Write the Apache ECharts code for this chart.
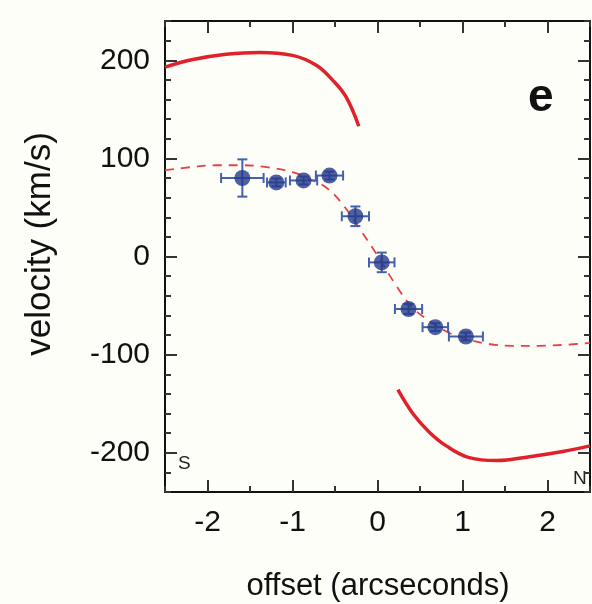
<!DOCTYPE html>
<html><head><meta charset="utf-8">
<script src="https://cdn.jsdelivr.net/npm/echarts@6/dist/echarts.min.js"></script>
<style>html,body{margin:0;padding:0;background:#fefef8;}#c{width:592px;height:604px;}</style>
</head><body><div id="c"></div>
<script>
// Observed data points
const ptX = [-1.59, -1.19, -0.87, -0.565, -0.26, 0.05, 0.365, 0.68, 1.04];
const ptY = [80, 75.5, 77.5, 82.5, 41, -6, -53.5, -72, -81.5];
const ptXErr = [0.25, 0.11, 0.16, 0.16, 0.16, 0.15, 0.16, 0.15, 0.2];
const ptYErr = [19, 4, 4, 4, 10, 10, 5, 4, 4];
// Dashed model curve
const dashX = [-2.5,-2.2,-1.9,-1.6,-1.3,-1.0,-0.8,-0.6,-0.4,-0.2,0,0.2,0.4,0.6,0.8,1.0,1.3,1.6,1.9,2.2,2.5];
const dashY = [88,91,93,93,91,86,79,70,52,27,1,-27,-51,-65,-76,-83,-89,-91,-91,-90,-88];
// Solid model curves
const topX = [-2.5,-2.17,-1.78,-1.39,-1.0,-0.72,-0.53,-0.37,-0.22];
const topY = [193,200.7,206,208,205,195,180,162.6,132.7];
const botX = [0.24,0.42,0.61,0.81,1.08,1.40,1.79,2.18,2.5];
const botY = [-135.7,-160.5,-179,-193,-205,-208,-204,-198.7,-193];
// Axis ranges and tick labels
const xRange = [-2.5, 2.5], xMinorStep = 0.5;
const yRange = [-240, 240], yMinorStep = 20;
const xMajor = [-2, -1, 0, 1, 2];
const yMajor = [-200, -100, 0, 100, 200];

const FONT = 'Liberation Sans, Arial, Helvetica, sans-serif';
const zip = (a, b) => a.map((v, i) => [v, b[i]]);

// main plot box (pixels)
const W = 592, H = 604;
const G = { left: 165, right: 2, top: 21, bottom: 112 };
const pxL = G.left, pxR = W - G.right, pxT = G.top, pxB = H - G.bottom;
const xScale = (pxR - pxL) / (xRange[1] - xRange[0]);
const yScale = (pxB - pxT) / (yRange[1] - yRange[0]);
const xPix = v => pxL + (v - xRange[0]) * xScale;
const yPix = v => pxT + (yRange[1] - v) * yScale;
const xMaj0 = xMajor[0], xMaj1 = xMajor[xMajor.length - 1];
const yMaj0 = yMajor[0], yMaj1 = yMajor[yMajor.length - 1];

const tickStyle = { color: '#333', width: 2 };
const hidden = { show: false };
const noAx = (g, t) => ({ type: 'value', gridIndex: g, show: false, min: t[0], max: t[1] });

function minorX(pos) {
  return { type: 'value', gridIndex: 0, min: xRange[0], max: xRange[1], interval: xMinorStep, position: pos,
    axisLine: { show: true, onZero: false, lineStyle: { color: '#111', width: 2 } },
    axisTick: { show: true, inside: true, length: 6, lineStyle: tickStyle },
    axisLabel: hidden, splitLine: hidden };
}
function minorY(pos) {
  return { type: 'value', gridIndex: 0, min: yRange[0], max: yRange[1], interval: yMinorStep, position: pos,
    axisLine: { show: true, onZero: false, lineStyle: { color: '#111', width: 2 } },
    axisTick: { show: true, inside: true, length: 6, lineStyle: tickStyle },
    axisLabel: hidden, splitLine: hidden };
}
function majorX(pos, labels) {
  return { type: 'value', gridIndex: 1, min: xMaj0, max: xMaj1, interval: 1, position: pos,
    axisLine: { show: false, onZero: false },
    axisTick: { show: true, inside: true, length: 12, lineStyle: tickStyle },
    axisLabel: labels ? { show: true, margin: 16, fontSize: 30, color: '#111', fontFamily: FONT } : hidden,
    splitLine: hidden };
}
function majorY(pos, labels) {
  return { type: 'value', gridIndex: 2, min: yMaj0, max: yMaj1, interval: 100, position: pos,
    axisLine: { show: false, onZero: false },
    axisTick: { show: true, inside: true, length: 12, lineStyle: tickStyle },
    axisLabel: labels ? { show: true, margin: 15, fontSize: 30, color: '#111', fontFamily: FONT } : hidden,
    splitLine: hidden };
}

const chart = echarts.init(document.getElementById('c'), null, { renderer: 'canvas' });
chart.setOption({
  backgroundColor: '#fefef8',
  animation: false,
  grid: [
    G,
    { left: xPix(xMaj0), right: W - xPix(xMaj1), top: G.top, bottom: G.bottom },
    { left: G.left, right: G.right, top: yPix(yMaj1), bottom: H - yPix(yMaj0) }
  ],
  xAxis: [minorX('bottom'), minorX('top'), majorX('bottom', true), majorX('top', false), noAx(2, xRange)],
  yAxis: [minorY('left'), minorY('right'), noAx(1, yRange), majorY('left', true), majorY('right', false)],
  graphic: [
    { type: 'text', x: 378, y: 586, style: { text: 'offset (arcseconds)', fontSize: 31, fill: '#111', fontFamily: FONT, align: 'center', verticalAlign: 'middle' } },
    { type: 'text', x: 40, y: 244, rotation: Math.PI / 2, style: { text: 'velocity (km/s)', fontSize: 35, fill: '#111', fontFamily: FONT, align: 'center', verticalAlign: 'middle' } },
    { type: 'text', left: 528, top: 75, style: { text: 'e', fontSize: 46, fontWeight: 'bold', fill: '#111', fontFamily: FONT } },
    { type: 'text', left: 178, top: 454, style: { text: 'S', fontSize: 19, fill: '#222', fontFamily: FONT } },
    { type: 'text', left: 573, top: 469, style: { text: 'N', fontSize: 19, fill: '#222', fontFamily: FONT } }
  ],
  series: [
    { type: 'line', xAxisIndex: 0, yAxisIndex: 0, data: zip(topX, topY), smooth: 0.4, showSymbol: false, clip: true,
      lineStyle: { color: '#e0212b', width: 3.5 }, z: 2 },
    { type: 'line', xAxisIndex: 0, yAxisIndex: 0, data: zip(botX, botY), smooth: 0.4, showSymbol: false, clip: true,
      lineStyle: { color: '#e0212b', width: 3.5 }, z: 2 },
    { type: 'line', xAxisIndex: 0, yAxisIndex: 0, data: zip(dashX, dashY), smooth: 0.4, showSymbol: false, clip: true,
      lineStyle: { color: '#e8404a', width: 1.8, type: [9, 7] }, z: 2 },
    { type: 'custom', xAxisIndex: 0, yAxisIndex: 0, z: 3,
      data: ptX.map((x, i) => [x, ptY[i], ptXErr[i], ptYErr[i]]),
      renderItem: function (params, api) {
        const x = api.value(0), y = api.value(1), ex = api.value(2), ey = api.value(3);
        const l = api.coord([x - ex, y]), r = api.coord([x + ex, y]);
        const t = api.coord([x, y + ey]), b = api.coord([x, y - ey]);
        const st = { stroke: '#4560ad', lineWidth: 2 };
        const c = 5;
        return { type: 'group', children: [
          { type: 'line', shape: { x1: l[0], y1: l[1], x2: r[0], y2: r[1] }, style: st },
          { type: 'line', shape: { x1: l[0], y1: l[1] - c, x2: l[0], y2: l[1] + c }, style: st },
          { type: 'line', shape: { x1: r[0], y1: r[1] - c, x2: r[0], y2: r[1] + c }, style: st },
          { type: 'line', shape: { x1: t[0], y1: t[1], x2: b[0], y2: b[1] }, style: st },
          { type: 'line', shape: { x1: t[0] - c, y1: t[1], x2: t[0] + c, y2: t[1] }, style: st },
          { type: 'line', shape: { x1: b[0] - c, y1: b[1], x2: b[0] + c, y2: b[1] }, style: st }
        ]};
      }
    },
    { type: 'scatter', xAxisIndex: 0, yAxisIndex: 0, data: zip(ptX, ptY), symbol: 'circle', symbolSize: 16, z: 4,
      itemStyle: { color: '#233a8b' } }
  ]
});
</script></body></html>
